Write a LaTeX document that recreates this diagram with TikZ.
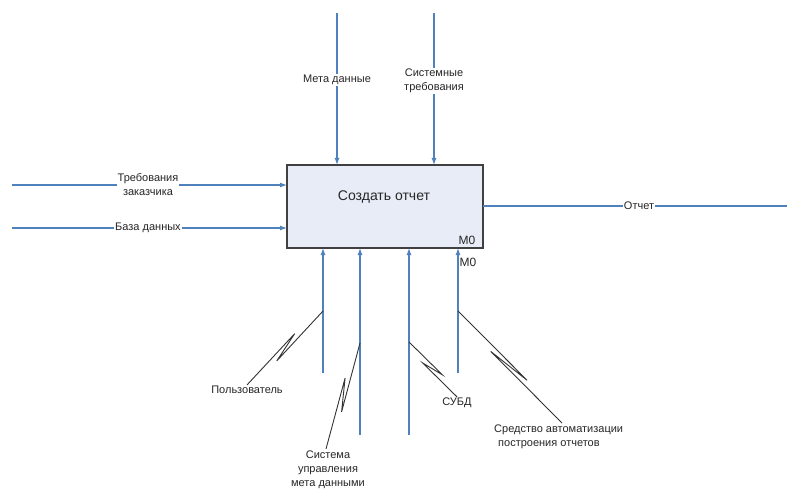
\documentclass[tikz,border=0pt]{standalone}
\usepackage{fontspec}
\setmainfont{Liberation Sans}
\usetikzlibrary{arrows.meta,calc}

\definecolor{flowblue}{RGB}{79,129,189}
\definecolor{boxfill}{RGB}{232,236,246}

\tikzset{
    flow/.style={draw=flowblue, line width=1.2pt, -{Latex[length=7pt,width=5pt]}},
    plain/.style={draw=flowblue, line width=1.2pt},
    box/.style={draw=black!75, line width=1.6pt, fill=boxfill, outer sep=0pt},
    tag/.style={fill=white, inner sep=1pt, align=center, text=black!85,
                font=\fontsize{11}{14}\selectfont},
    note/.style={inner sep=1pt, align=center, text=black!85,
                 font=\fontsize{11}{14}\selectfont},
    squig/.style={draw=black!80, line width=0.9pt}
}

% IDEF0 squiggle between an arrow and its label
\newcommand{\squiggle}[2]{%
    \draw[squig] (#1) -- ($(#1)!0.64!(#2)!3.5pt!90:(#2)$)
                      -- ($(#1)!0.34!(#2)!3.5pt!-90:(#2)$) -- (#2);}

\begin{document}
\begin{tikzpicture}[x=1pt, y=-1pt]
    \useasboundingbox (0,0) rectangle (787,489);

    \coordinate (in1) at (12,185);
    \coordinate (in2) at (12,228);
    \coordinate (ctl1) at (337,13);
    \coordinate (ctl2) at (434,13);
    \coordinate (out1) at (787,206);
    \coordinate (mec1) at (323,373);
    \coordinate (mec2) at (360,435);
    \coordinate (mec3) at (409,435);
    \coordinate (mec4) at (458,373);

    % activity box
    \node[box, anchor=north west, minimum width=196pt, minimum height=83pt] (a0) at (287,165) {};
    \node[note, font=\fontsize{14}{16}\selectfont] (title) at (384,197) {Создать отчет};
    \node[note, font=\fontsize{12}{14}\selectfont] (num) at (467,240) {M0};
    \node[note, font=\fontsize{12}{14}\selectfont] (num2) at (468,262) {M0};

    % inputs, controls, output
    \draw[flow] (in1) -- (in1 -| a0.west);
    \draw[flow] (in2) -- (in2 -| a0.west);
    \draw[flow] (ctl1) -- (ctl1 |- a0.north);
    \draw[flow] (ctl2) -- (ctl2 |- a0.north);
    \draw[plain] (out1 -| a0.east) -- (out1);

    % mechanisms
    \draw[flow] (mec1) -- (mec1 |- a0.south);
    \draw[flow] (mec2) -- (mec2 |- a0.south);
    \draw[flow] (mec3) -- (mec3 |- a0.south);
    \draw[flow] (mec4) -- (mec4 |- a0.south);

    \node[tag] (cust) at (148,185) {Требования\\заказчика};
    \node[tag] (db) at (148,228) {База данных};
    \node[tag] (meta) at (337,80) {Мета данные};
    \node[tag] (sysreq) at (434,81) {Системные\\требования};
    \node[tag] (report) at (639,206) {Отчет};

    \node[note] (user) at (247,390) {Пользователь};
    \node[note] (mdms) at (328,470) {Система\\управления\\мета данными};
    \node[note] (dbms) at (457,403) {СУБД};
    \node[note, anchor=west, align=left] (tool) at (493,437) {Средство автоматизации\\\hspace*{4pt}построения отчетов};

    \squiggle{323,311}{user.north}
    \squiggle{360,343}{326,449}
    \squiggle{409,342}{dbms.north}
    \squiggle{458,311}{562,423}
\end{tikzpicture}
\end{document}
